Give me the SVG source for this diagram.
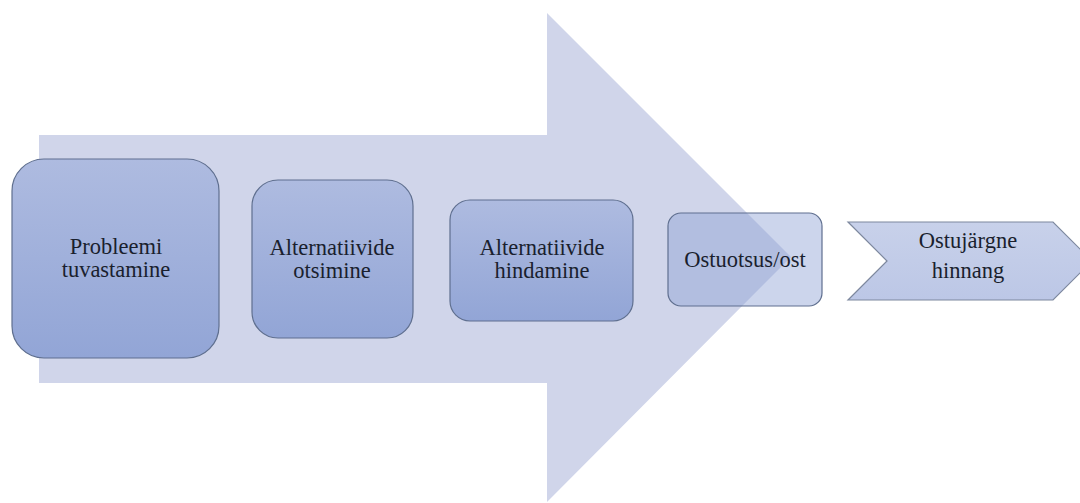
<svg xmlns="http://www.w3.org/2000/svg" width="1080" height="503" viewBox="0 0 1080 503">
<defs>
<linearGradient id="boxg" x1="0" y1="0" x2="0" y2="1">
<stop offset="0" stop-color="#aebbe0"/>
<stop offset="1" stop-color="#92a5d6"/>
</linearGradient>
<linearGradient id="chevg" x1="0" y1="0" x2="0" y2="1">
<stop offset="0" stop-color="#c8d1ea"/>
<stop offset="1" stop-color="#bcc7e6"/>
</linearGradient>
<style>
.box{fill:url(#boxg);stroke:#5f6f8f;stroke-width:1.2}
text{font-family:"Liberation Serif","Times New Roman","DejaVu Serif",serif;font-size:22.5px;fill:#1a1f2e;text-anchor:middle}
</style>
</defs>
<rect width="1080" height="503" fill="#ffffff"/>
<g id="big-arrow">
<polygon points="39,135 547,135 547,13 791,257 547,502 547,383 39,383" fill="#d0d5ea"/>
</g>
<g id="connectors"></g>
<g id="node1">
<rect class="box" x="12" y="159" width="207" height="199" rx="32"/>
<text x="116" y="254">Probleemi</text>
<text x="116" y="277">tuvastamine</text>
</g>
<g id="node2">
<rect class="box" x="252" y="180" width="161" height="158" rx="26"/>
<text x="332" y="255">Alternatiivide</text>
<text x="332" y="278">otsimine</text>
</g>
<g id="node3">
<rect class="box" x="450" y="200" width="183" height="121" rx="20"/>
<text x="542" y="255">Alternatiivide</text>
<text x="542" y="278">hindamine</text>
</g>
<g id="node4">
<rect x="668" y="213" width="154" height="93" rx="13" fill="#8fa1d4" fill-opacity="0.45" stroke="#5f6f8f" stroke-width="1.2"/>
<text x="745" y="267">Ostuotsus/ost</text>
</g>
<g id="node5">
<polygon points="848,222 1053,222 1092,261 1053,300 848,300 887,261" fill="url(#chevg)" stroke="#7d889e" stroke-width="1.2"/>
<text x="968" y="248">Ostujärgne</text>
<text x="968" y="278">hinnang</text>
</g>
</svg>
